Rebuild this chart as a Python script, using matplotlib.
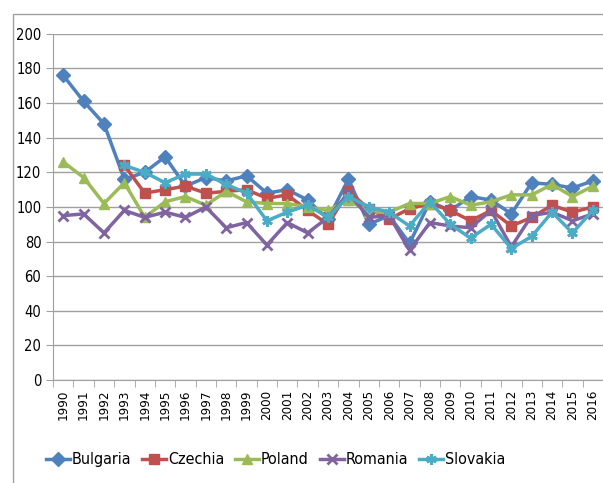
import matplotlib.pyplot as plt
from matplotlib.patches import Rectangle

years = [str(y) for y in range(1990, 2017)]

bulgaria = [176, 161, 148, 116, 120, 129, 112, 117, 115, 118, 108, 110, 104, 93,
            116, 90, 95, 79, 103, 98, 106, 104, 96, 114, 113, 111, 115]
czechia = [None, None, None, 124, 108, 110, 112, 108, 109, 110, 105, 107, 98, 90,
           109, 99, 93, 99, 102, 98, 92, 98, 89, 94, 101, 97, 100]
poland = [126, 117, 102, 114, 94, 103, 106, 101, 109, 103, 102, 102, 100, 98,
          104, 97, 97, 102, 102, 106, 101, 103, 107, 107, 113, 106, 112]
romania = [95, 96, 85, 98, 94, 97, 94, 100, 88, 91, 78, 91, 85, 94,
           108, 94, 95, 75, 91, 89, 88, 98, 77, 95, 97, 92, 96]
slovakia = [None, None, None, 124, 120, 114, 119, 119, 113, 108, 92, 97, 101, 94,
            106, 100, 97, 89, 103, 90, 82, 90, 76, 83, 97, 85, 98]

series = [
    ("Bulgaria", bulgaria, "#4F81BD", "D"),
    ("Czechia", czechia, "#C0504D", "s"),
    ("Poland", poland, "#9BBB59", "^"),
    ("Romania", romania, "#8064A2", "x"),
    ("Slovakia", slovakia, "#4BACC6", (6, 2, 0)),
]

plt.rcParams['font.family'] = ['DejaVu Sans']
plt.rcParams['font.stretch'] = 'condensed'

fig = plt.figure(figsize=(6.03, 4.83), dpi=100)
fig.patches.append(Rectangle((0.022, -0.01), 1.0, 0.98, transform=fig.transFigure,
                             fill=False, edgecolor="#A0A0A0", linewidth=1))
ax = fig.add_axes([0.088, 0.213, 0.912, 0.717])

x = list(range(len(years)))
for name, vals, color, marker in series:
    xs = [i for i, v in zip(x, vals) if v is not None]
    ys = [v for v in vals if v is not None]
    mew = 2 if marker in ("x", (6, 2, 0)) else 1
    ax.plot(xs, ys, color=color, linewidth=2.5, marker=marker, markersize=7.5,
            markeredgewidth=mew, label=name)

ax.set_xlim(-0.5, len(years) - 0.5)
ax.set_ylim(0, 200)
ax.set_yticks(range(0, 201, 20))
ax.set_xticks(x)
ax.set_xticklabels(years, rotation=90, fontsize=9.5)
ax.tick_params(axis='y', labelsize=10.5, length=5, color="#A0A0A0")
ax.tick_params(axis='x', length=0, pad=7)
ax.set_xticks([i - 0.5 for i in range(len(years) + 1)], minor=True)
ax.tick_params(axis='x', which='minor', length=5, color="#A0A0A0")
ax.grid(axis='y', color="#A0A0A0", linewidth=1)
ax.set_axisbelow(True)
for s in ("top", "right"):
    ax.spines[s].set_visible(False)
for s in ("left", "bottom"):
    ax.spines[s].set_color("#A0A0A0")

fig.legend(loc="center", bbox_to_anchor=(0.457, 0.048), ncol=5, frameon=False,
           handlelength=1.5, columnspacing=0.7, handletextpad=0.1,
           prop={'size': 11.5, 'weight': 'medium'})

fig.savefig("out.png", dpi=100)
